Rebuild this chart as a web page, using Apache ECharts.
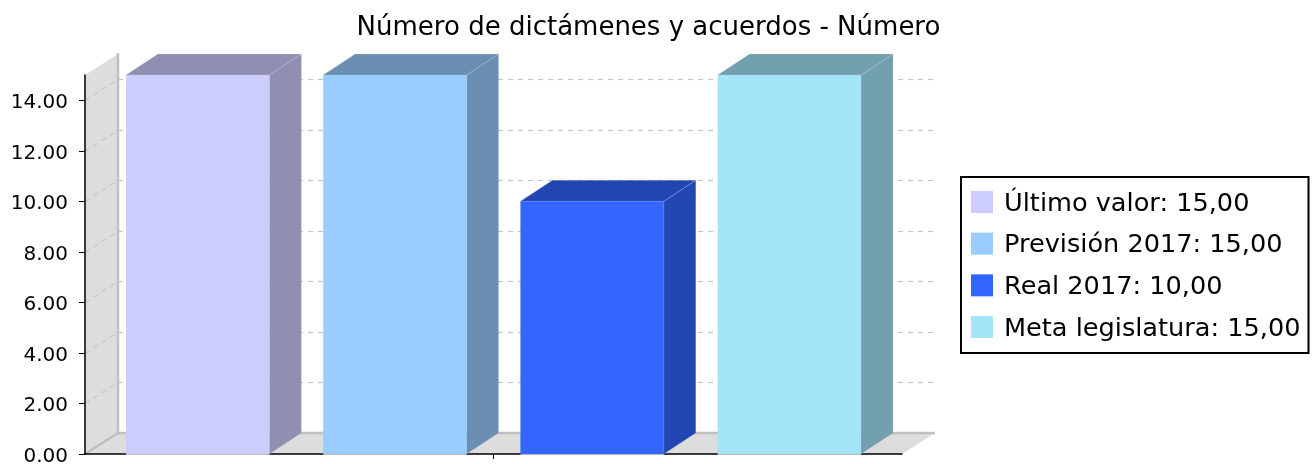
<!DOCTYPE html>
<html>
<head>
<meta charset="utf-8">
<title>Número de dictámenes y acuerdos</title>
<script src="https://cdn.jsdelivr.net/npm/echarts@6/dist/echarts.min.js"></script>
<style>
html, body { margin: 0; padding: 0; background: #fff; }
#chart { width: 1312px; height: 464px; }
</style>
</head>
<body>
<div id="chart"></div>
<script>
var categories = [''];
var seriesNames = ['Último valor', 'Previsión 2017', 'Real 2017', 'Meta legislatura'];
var seriesValues = [15, 15, 10, 15];
var yTicks = [0, 2, 4, 6, 8, 10, 12, 14];

var frontColors = ['#CCCCFF', '#99CCFF', '#3366FF', '#A3E5F8'];
var shadeColors = ['#8F8FB2', '#6B8FB2', '#2347B2', '#72A0AE'];

// depth of the fake 3d box, the wall sits a bit further back than the bars
var depthX = 32;
var depthY = -21;
var wallDepthX = 33;
var font = '"DejaVu Sans", sans-serif';

var myChart = echarts.init(document.getElementById('chart'));

function poly(points, style) {
    return { type: 'polygon', shape: { points: points }, style: style, silent: true };
}

function seg(x1, y1, x2, y2, style) {
    return { type: 'line', shape: { x1: x1, y1: y1, x2: x2, y2: y2 }, style: style, silent: true };
}

function renderWalls(params, api) {
    var band = api.size([1, 0])[0];
    var center = api.coord([0, 0]);
    var left = center[0] - band / 2;
    var right = center[0] + band / 2;
    var y0 = center[1];
    var yTop = api.coord([0, 15])[1];
    var wallFill = { fill: '#DDDDDD' };
    var edge = { stroke: '#C0C0C0', lineWidth: 2.5 };
    var grid = { stroke: '#C4C4C4', lineWidth: 1.2, lineDash: [5, 5] };
    var items = [
        poly([[left, y0], [left + wallDepthX, y0 + depthY], [left + wallDepthX, yTop + depthY], [left, yTop]], wallFill),
        poly([[left, y0], [right, y0], [right + wallDepthX, y0 + depthY], [left + wallDepthX, y0 + depthY]], wallFill),
        seg(left + wallDepthX, yTop + depthY - 1, left + wallDepthX, y0 + depthY, edge),
        seg(left + wallDepthX, y0 + depthY, right + wallDepthX, y0 + depthY, edge),
        seg(left, y0, left + wallDepthX, y0 + depthY, edge)
    ];
    yTicks.forEach(function (t) {
        if (t === 0) {
            return;
        }
        var y = Math.round(api.coord([0, t])[1]) + 0.5;
        items.push(seg(left, y, left + wallDepthX, y + depthY, grid));
        items.push(seg(left + wallDepthX, y + depthY, right + wallDepthX, y + depthY, grid));
    });
    return { type: 'group', children: items };
}

function renderBar(index) {
    return function (params, api) {
        var band = api.size([1, 0])[0];
        var step = band * 0.2414;
        var width = band * 0.1755;
        var base = api.coord([0, 0]);
        var top = api.coord([api.value(0), api.value(1)]);
        var x0 = base[0] + (index - 1.5) * step - width / 2;
        var x1 = x0 + width;
        var seam = 'rgba(205,205,215,0.4)';
        return {
            type: 'group',
            children: [
                poly([[x1, base[1]], [x1 + depthX, base[1] + depthY], [x1 + depthX, top[1] + depthY], [x1, top[1]]],
                    { fill: shadeColors[index], stroke: seam, lineWidth: 0.6 }),
                poly([[x0, top[1]], [x1, top[1]], [x1 + depthX, top[1] + depthY], [x0 + depthX, top[1] + depthY]],
                    { fill: shadeColors[index], stroke: seam, lineWidth: 0.6 }),
                { type: 'rect', shape: { x: x0, y: top[1], width: width, height: base[1] - top[1] }, style: { fill: frontColors[index] }, silent: true },
                seg(x0, base[1] + 0.5, x1, base[1] + 0.5, { stroke: '#BBBBBB', lineWidth: 1 })
            ]
        };
    };
}

function legendName(i) {
    return seriesNames[i] + ': ' + seriesValues[i].toFixed(2).replace('.', ',');
}

var series = [{
    type: 'custom',
    name: 'paredes',
    silent: true,
    clip: false,
    z: 1,
    renderItem: renderWalls,
    data: [[0, 0]]
}];
seriesNames.forEach(function (n, i) {
    series.push({
        type: 'custom',
        name: legendName(i),
        clip: false,
        z: 3,
        itemStyle: { color: frontColors[i] },
        encode: { x: 0, y: 1 },
        renderItem: renderBar(i),
        data: [[0, seriesValues[i]]]
    });
});

var option = {
    animation: false,
    title: {
        text: 'Número de dictámenes y acuerdos - Número',
        left: 643.5,
        top: 10,
        padding: 5,
        textAlign: 'center',
        textStyle: { fontFamily: font, fontSize: 26, fontWeight: 'normal', color: '#000' }
    },
    legend: {
        orient: 'vertical',
        left: 961,
        top: 177,
        padding: [10, 8, 11, 10],
        borderColor: '#000',
        borderWidth: 2,
        backgroundColor: '#fff',
        icon: 'rect',
        itemWidth: 22,
        itemHeight: 22,
        itemGap: 11.67,
        data: seriesNames.map(function (n, i) { return legendName(i); }),
        formatter: function (name) { return '{t|' + name + '}'; },
        textStyle: {
            padding: [0, 0, 0, 6],
            rich: { t: { fontFamily: font, fontSize: 25.6, lineHeight: 22, color: '#000', padding: [4, 0, 0, 0] } }
        }
    },
    grid: { left: 85, right: 410, top: 75, bottom: 10, outerBoundsMode: 'none' },
    xAxis: {
        type: 'category',
        z: 2,
        data: categories,
        axisLine: { lineStyle: { color: '#000', width: 1.5 } },
        axisTick: { show: true, alignWithLabel: true, length: 5, lineStyle: { color: '#000' } },
        axisLabel: { show: false }
    },
    yAxis: {
        type: 'value',
        z: 2,
        min: 0,
        max: 15,
        axisLine: { show: true, lineStyle: { color: '#000', width: 1.5 } },
        axisTick: { show: true, length: 6, customValues: yTicks, lineStyle: { color: '#000' } },
        axisLabel: {
            customValues: yTicks,
            margin: 17,
            color: '#000',
            formatter: function (v) { return '{t|' + v.toFixed(2) + '}'; },
            rich: { t: { fontFamily: font, fontSize: 20, color: '#000', padding: [5, 0, 0, 0] } }
        },
        splitLine: { show: false }
    },
    series: series
};

myChart.setOption(option);
</script>
</body>
</html>
